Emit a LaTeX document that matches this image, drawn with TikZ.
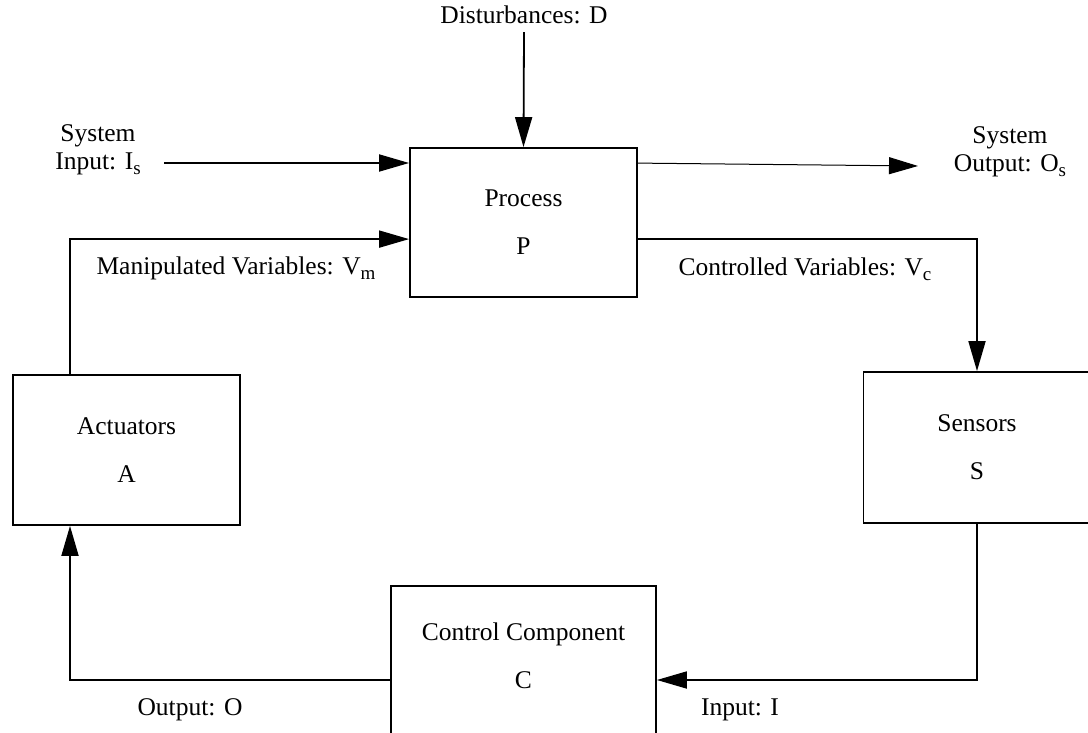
\documentclass[tikz,border=0pt]{standalone}
\usepackage{fontspec}
\setmainfont{Liberation Serif}
\usetikzlibrary{arrows.meta}
% lowered, fairly large subscript letters
\newcommand\lowsub[1]{\raisebox{-5pt}{\fontsize{19}{19}\selectfont #1}}
\begin{document}
\begin{tikzpicture}[x=1pt,y=-1pt,
  every node/.style={font=\fontsize{25.5}{28}\selectfont, inner sep=0pt},
  block/.style={draw, line width=1.8pt, minimum width=227pt, minimum height=150pt,
    align=center, font=\fontsize{25.5}{48}\selectfont},
  wire/.style={line width=1.8pt},
  arr/.style={wire, -{Triangle[length=30pt,width=17pt]}},
  arrthin/.style={line width=1pt, -{Triangle[length=29pt,width=17pt]}},
  lbl/.style={align=center}]
\useasboundingbox (0,0) rectangle (1088,733);

% blocks
\node[block, minimum height=149pt] (P) at (523.5,222.5) {Process\\P};
\node[block] (A) at (126.5,450) {Actuators\\A};
\node[block, minimum height=151pt] (S) at (977,447.5) {Sensors\\S};
\node[block, minimum width=265pt, minimum height=160pt] (C) at (523.5,666) {};
\node[align=center, font=\fontsize{25.5}{48}\selectfont] (Ct) at (523.5,656) {Control Component\\C};

% external signals
\node (D) at (524,15) {Disturbances: D};
\node[lbl] (Is) at (98,150) {System\\Input: I\lowsub{s}};
\node[lbl] (Os) at (1010,152) {System\\Output: O\lowsub{s}};
\coordinate (isrc) at (164,163);
\coordinate (otip) at (918,166);

\draw[arr] ([yshift=-8pt]D.south) -- (P.north);
\draw[arr] (isrc) -- (isrc -| P.west);
\draw[arrthin] ([yshift=-16pt]P.north east) -- (otip);

% feedback loop
\draw[arr] ([xshift=-56.5pt]A.north) |- ([yshift=-92pt]P.north west);
\draw[arr] ([yshift=-92pt]P.north east) -| (S.north);
\draw[arr] (S.south) |- ([yshift=-14pt]C.east);
\draw[arr] ([yshift=-14pt]C.west) -| ([xshift=-56.5pt]A.south);

% loop labels
\node (Vm) at (236,268) {Manipulated Variables: V\lowsub{m}};
\node (Vc) at (805,269) {Controlled Variables: V\lowsub{c}};
\node (O) at (190,710) {Output: O};
\node (I) at (740,710) {Input: I};
\end{tikzpicture}
\end{document}
